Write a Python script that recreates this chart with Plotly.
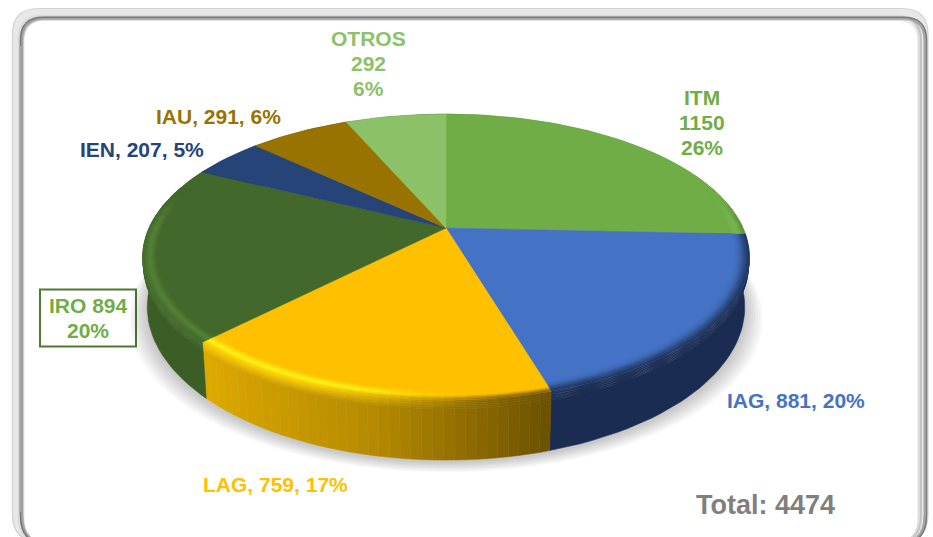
import numpy as np
import plotly.graph_objects as go

# ---- data ----
categories = ["ITM", "IAG", "LAG", "IRO", "IEN", "IAU", "OTROS"]
values = [1150, 881, 759, 894, 207, 291, 292]
percents = [26, 20, 17, 20, 5, 6, 6]
total_label = "Total: 4474"
face_colors = ["#70AD47", "#4472C4", "#FFC000", "#43682B", "#264478", "#997300", "#8CC168"]
text_colors = ["#70AD47", "#4472C4", "#FFC000", "#70AD47", "#264478", "#997300", "#8CC168"]
wall_colors = ["#44692c", "#1a2c52", "#B58A00", "#3c5e26", "#1a2c52", "#5c4500", "#54743e"]

# ---- projection of the tilted disc onto the page ----
CX, CY, A, B, K, DEPTH, TAPER = 446.0, 228.0, 297.0, 137.0, 0.203, 48.0, 0.985
R_FLAT = 0.955


def project(theta, r=1.0, depth=0.0):
    u, v = r * np.sin(theta), r * np.cos(theta)
    w = 1 + K * v
    x = CX + A * u / w
    y = CY - B * v / w
    x = CX + (x - CX) * (1 - (1 - TAPER) * depth)
    return x, y + depth * DEPTH / w


def hex2rgb(c):
    return np.array([int(c[i:i + 2], 16) for i in (1, 3, 5)], float)


def mix(c1, c2, f):
    f = float(np.clip(f, 0, 1))
    r = hex2rgb(c1) * (1 - f) + hex2rgb(c2) * f
    return "#%02x%02x%02x" % tuple(int(round(x)) for x in r)


def smooth(f, a, b):
    t = np.clip((f - a) / (b - a), 0, 1)
    return float(t * t * (3 - 2 * t))


def ramp(stops, s):
    """Colour at position s in a list of (position, colour) stops."""
    for (a, ca), (b, cb) in zip(stops, stops[1:]):
        if s <= b:
            return mix(ca, cb, (s - a) / (b - a))
    return stops[-1][1]


def poly(xs, ys, color, opacity=None):
    fig.add_trace(go.Scatter(
        x=list(xs) + [xs[0]], y=list(ys) + [ys[0]], mode="lines", fill="toself",
        fillcolor=color, line=dict(color=color, width=0.5 if opacity is None else 0),
        opacity=opacity, hoverinfo="skip", showlegend=False))


def band(t0, t1, p0, p1, color):
    th = np.linspace(t0, t1, max(3, int(abs(t1 - t0) / 0.03)))
    x0, y0 = project(th, *p0)
    x1, y1 = project(th[::-1], *p1)
    poly(np.r_[x0, x1], np.r_[y0, y1], color)


fig = go.Figure()
edges = np.r_[0, np.cumsum(values)] / sum(values) * 2 * np.pi

# soft shadow below the disc
th_all = np.linspace(0, 2 * np.pi, 180)
for grow in np.linspace(1.06, 1.005, 8):
    x, y = project(th_all, 1.0, 1.0)
    poly(CX + (x - CX) * grow, y + (grow - 1) * 170 + 2, "rgba(0,0,0,0.028)", 1.0)

LIP = 0.15
WALL_STEPS = [0.0, 0.03, 0.06, 0.09, 0.12, 0.15, 1.0]
RIM_STEPS = np.linspace(R_FLAT, 1.0, 9)

# colour profiles: position 0 is the flat face edge, 1 the outer edge, 1..2 the wall lip
rim_profile = {
    "ITM": [(0, "#70AD47"), (0.5, "#7ab950"), (1, "#5a8c39"), (2, "#44692c")],
    "IAG": [(0, "#4472C4"), (0.3, "#3f69b5"), (1, "#1f3259"), (2, "#1a2c52")],
    "IRO": [(0, "#43682B"), (0.5, "#558337"), (1, "#446c2c"), (2, "#3c5e26")],
}


def lag_profile(f):
    """f is 0 at the left end of the slice, 1 at the right end."""
    wall = mix("#DFAB00", "#B58A00", f / 0.55) if f < 0.55 else mix("#B58A00", "#6B5000", (f - 0.55) / 0.45)
    bright = mix("#FFF51A", "#FFC000", smooth(f, 0.45, 0.8))
    lip = mix("#F6C800", wall, smooth(f, 0.3, 0.9))
    return [(0, "#FFC000"), (0.55, bright), (1, lip), (2, wall)]


def cells(name):
    k = categories.index(name)
    n = 36 if name == "LAG" else max(1, int(np.degrees(edges[k + 1] - edges[k]) / 4))
    return [(edges[k] + (edges[k + 1] - edges[k]) * j / n,
             edges[k] + (edges[k + 1] - edges[k]) * (j + 1) / n) for j in range(n)]


# walls, bottom first
for i in range(len(WALL_STEPS) - 2, -1, -1):
    d0, d1 = WALL_STEPS[i], WALL_STEPS[i + 1]
    s = 1 + min((d0 + min(d1, LIP)) / 2 / LIP, 1) if d0 < LIP else 2
    for k, name in enumerate(categories):
        if name == "LAG":
            for a0, a1 in cells(name):
                # angle grows clockwise, so the left end of this slice is its far end
                f = 1 - ((a0 + a1) / 2 - edges[k]) / (edges[k + 1] - edges[k])
                band(a0, a1, (1.0, d0), (1.0, d1), ramp(lag_profile(f), s))
        elif name in rim_profile:
            band(edges[k], edges[k + 1], (1.0, d0), (1.0, d1), ramp(rim_profile[name], s))
        else:
            band(edges[k], edges[k + 1], (1.0, d0), (1.0, d1), wall_colors[k])

# flat top face of each slice out to the edge
for k, name in enumerate(categories):
    th = np.linspace(edges[k], edges[k + 1], 80)
    x, y = project(th, 1.0)
    poly(np.r_[CX, x], np.r_[CY, y], face_colors[k])

# bevel just inside the rim, fading out toward the back of the disc
for i in range(len(RIM_STEPS) - 1):
    r0, r1 = RIM_STEPS[i], RIM_STEPS[i + 1]
    s = ((r0 + r1) / 2 - R_FLAT) / (1 - R_FLAT)
    for k, name in enumerate(categories):
        if name in ("IEN", "IAU", "OTROS"):
            continue
        if name == "IAG":
            band(edges[k], edges[k + 1], (r0, 0), (r1, 0), ramp(rim_profile[name], s))
            continue
        for a0, a1 in cells(name):
            mid = (a0 + a1) / 2
            if name == "LAG":
                f = 1 - (mid - edges[k]) / (edges[k + 1] - edges[k])
                color = ramp(lag_profile(f), s)
            else:
                fade = 1 - smooth(np.cos(mid), -0.02, 0.3)
                if fade <= 0:
                    continue
                color = mix(face_colors[k], ramp(rim_profile[name], s), fade)
            band(a0, a1, (r0, 0), (r1, 0), color)


# labels: every line is placed on its own to hold the line spacing of the reference
def label(k, line, x, y, size=21):
    return dict(text=line.format(n=categories[k], v=values[k], p=percents[k]), x=x, y=y,
                xref="x", yref="y", showarrow=False,
                font=dict(family="Liberation Sans", size=size, color=text_colors[k], weight="bold"))


annotations = [
    label(0, "{n}", 702, 97), label(0, "{v}", 702, 122), label(0, "{p}%", 702, 147),
    label(1, "{n}, {v}, {p}%", 796, 400),
    label(2, "{n}, {v}, {p}%", 275, 484),
    label(3, "{n} {v}", 88, 305), label(3, "{p}%", 88, 330),
    label(4, "{n}, {v}, {p}%", 142, 149),
    label(5, "{n}, {v}, {p}%", 218, 116),
    label(6, "{n}", 368, 38.5), label(6, "{v}", 368, 63.5), label(6, "{p}%", 368, 88.5),
    dict(text=total_label, x=765, y=505, xref="x", yref="y", showarrow=False,
         font=dict(family="Liberation Sans", size=27, color="#7F7F7F", weight="bold")),
]


def rrect(x0, y0, x1, y1, r, line, width, fill):
    path = (f"M{x0 + r},{y0} L{x1 - r},{y0} Q{x1},{y0} {x1},{y0 + r} L{x1},{y1 - r} "
            f"Q{x1},{y1} {x1 - r},{y1} L{x0 + r},{y1} Q{x0},{y1} {x0},{y1 - r} "
            f"L{x0},{y0 + r} Q{x0},{y0} {x0 + r},{y0} Z")
    return dict(type="path", path=path, xref="x", yref="y", line=dict(color=line, width=width),
                fillcolor=fill, layer="below")


def edge(l, t, r, rad, color, width):
    path = (f"M{l + 14},541 Q{l},537 {l},515 L{l},{t + rad} Q{l},{t} {l + rad},{t} "
            f"L{r - rad},{t} Q{r},{t} {r},{t + rad} L{r},515 Q{r},537 {r - 14},541")
    return dict(type="path", path=path, xref="x", yref="y", line=dict(color=color, width=width), layer="below")


def side(x, color, width):
    return dict(type="line", x0=x, x1=x, y0=46, y1=512, xref="x", yref="y",
                line=dict(color=color, width=width), layer="below")


shapes = [
    rrect(12.5, 8.5, 928, 541, 26, "#d2d2d2", 1.2, "#e8e8e8"),
    rrect(24.5, 21, 917.5, 544, 20, "white", 0, "white"),
    edge(18.5, 15.5, 919, 24, "#dcdcdc", 2),
    edge(20.5, 17.2, 921, 23, "#c4c4c4", 2),
    edge(23, 19.6, 926, 22, "#c2c2c2", 1.5),
    edge(22, 18.6, 924.5, 22, "#a2a2a2", 2),
    edge(20.5, 17.3, 926.5, 23, "#7a7a7a", 1.6),
    side(20.5, "#a4a4a4", 1.8),
    dict(type="rect", x0=40, y0=289.5, x1=136, y1=346.5, xref="x", yref="y",
         line=dict(color="#4F7A30", width=2), fillcolor="white", layer="below"),
]

fig.update_layout(
    width=933, height=537, margin=dict(l=0, r=0, t=0, b=0),
    paper_bgcolor="white", plot_bgcolor="white", showlegend=False,
    xaxis=dict(range=[0, 933], visible=False, fixedrange=True),
    yaxis=dict(range=[537, 0], visible=False, fixedrange=True),
    annotations=annotations, shapes=shapes,
)

fig.write_html("out.html", config=dict(displayModeBar=False),
               post_script="document.body.style.margin='0';")
